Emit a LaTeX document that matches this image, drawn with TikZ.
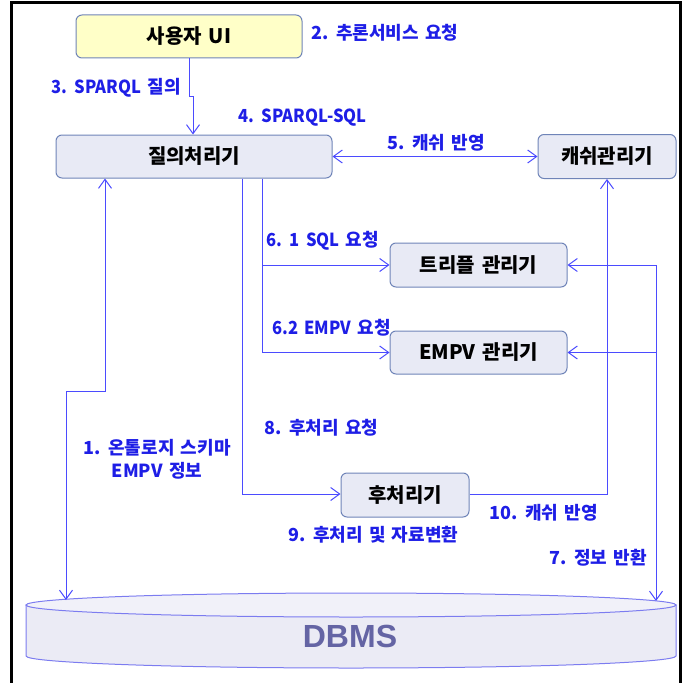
\documentclass[tikz,border=0pt]{standalone}
\usepackage{fontspec}
\newfontfamily\kr{Noto Sans CJK KR}
\newfontfamily\krnarrow{Noto Sans CJK KR}[FakeStretch=0.92]
\newfontfamily\dbfont{Liberation Sans}
\usetikzlibrary{arrows.meta}
\definecolor{lblblue}{HTML}{1E1EE6}
\definecolor{linkblue}{HTML}{4B4BFF}
\definecolor{boxfill}{HTML}{E8EAF5}
\definecolor{boxline}{HTML}{6F84B8}
\definecolor{uifill}{HTML}{FFFFC8}
\definecolor{dbfill}{HTML}{EBEBF5}
\definecolor{dbtop}{HTML}{F1F1F9}
\definecolor{dbline}{HTML}{7C7CF0}
\definecolor{dbtext}{HTML}{6464A4}
\newcommand\widespaces{\spaceskip=0.35em\relax}
% Latin runs in the labels are set slightly condensed
\newcommand\lat[1]{{\krnarrow\bfseries #1}}
\begin{document}
\begin{tikzpicture}[x=1pt,y=-1pt,
  box/.style={draw=boxline, fill=boxfill, rounded corners=6pt, line width=1pt,
    font=\kr\bfseries\fontsize{20}{23}\selectfont, text=black, inner sep=0pt,
    execute at begin node=\widespaces},
  lab/.style={font=\kr\bfseries\fontsize{18}{23}\selectfont, text=lblblue, inner sep=0pt,
    execute at begin node=\widespaces},
  link/.style={draw=linkblue, line width=1pt},
  tip/.style={-{Straight Barb[length=9pt,width=13pt]}},
  tips/.style={{Straight Barb[length=9pt,width=13pt]}-{Straight Barb[length=9pt,width=13pt]}}]
\useasboundingbox (0,0) rectangle (690,682);

% outer frame
\draw[line width=3pt] (11,700) -- (11,3) -- (680,3) -- (680,700);

% DBMS cylinder
\draw[draw=dbline, fill=dbfill, line width=1pt]
  (26,605) -- (26,656) arc[start angle=180, end angle=360, x radius=325pt, y radius=12pt]
  -- (676,605) -- cycle;
\draw[draw=dbline, fill=dbtop, line width=1pt] (351,605) ellipse [x radius=325pt, y radius=12pt];
\node[font=\dbfont\bfseries\fontsize{32}{32}\selectfont, text=dbtext] (db) at (350,636) {DBMS};
\coordinate (dbL) at (66,600);
\coordinate (dbR) at (656,601);

% components
\node[box, fill=uifill, minimum width=226pt, minimum height=43pt] (ui) at (189,36.5) {사용자 UI};
\node[box, minimum width=276pt, minimum height=43pt] (qp) at (194,156.5) {질의처리기};
\node[box, minimum width=138pt, minimum height=44pt] (cm) at (607,156.5) {캐쉬관리기};
\node[box, minimum width=177pt, minimum height=44pt] (tm) at (478.5,265) {트리플 관리기};
\node[box, minimum width=177pt, minimum height=43pt] (em) at (478.5,352.5) {EMPV 관리기};
\node[box, minimum width=128pt, minimum height=44pt] (pp) at (405,495) {후처리기};

% routing points
\coordinate (j1) at (189,97);
\coordinate (j2) at (193,97);
\coordinate (k1) at (66,391);
\coordinate (k2) at (105,391);
\coordinate (a1) at (262,265);
\coordinate (a2) at (262,352.5);
\coordinate (b1) at (242,494);
\coordinate (c1) at (607,494);
\coordinate (d1) at (656,265);
\coordinate (d2) at (656,352.5);

% connectors
\draw[link, tip] (ui.south) -- (j1) -- (j2) -- (j2 |- qp.north);
\draw[link, tips] (qp.east) -- (cm.west);
\draw[link, tips] (dbL) -- (k1) -- (k2) -- (k2 |- qp.south);
\draw[link] (a1 |- qp.south) -- (a2);
\draw[link, tip] (a1) -- (a1 -| tm.west);
\draw[link, tip] (a2) -- (a2 -| em.west);
\draw[link, tip] (b1 |- qp.south) -- (b1) -- (b1 -| pp.west);
\draw[link, tip] (c1 -| pp.east) -- (c1) -- (cm.south);
\draw[link, tip] (d1) -- (d1 -| tm.east);
\draw[link, tip] (d2) -- (d2 -| em.east);
\draw[link, tip] (d1) -- (dbR);

% labels
\node[lab, anchor=west] (l2) at (311,33) {2. 추론서비스 요청};
\node[lab, anchor=west] (l3) at (51,88) {\lat{3. SPARQL} 질의};
\node[lab, anchor=west] (l4) at (238,118) {\lat{4. SPARQL-SQL}};
\node[lab, anchor=west] (l5) at (387,143) {5. 캐쉬 반영};
\node[lab, anchor=west] (l61) at (266,241) {\lat{6. 1 SQL} 요청};
\node[lab, anchor=west] (l62) at (272,328) {\lat{6.2 EMPV} 요청};
\node[lab, anchor=west] (l8) at (264,428) {8. 후처리 요청};
\node[lab, align=center] (l1) at (157,459) {1. 온톨로지 스키마\\EMPV 정보};
\node[lab, anchor=west] (l9) at (288,535) {9. 후처리 및 자료변환};
\node[lab, anchor=west] (l10) at (489,513) {10. 캐쉬 반영};
\node[lab, anchor=west] (l7) at (549,558) {7. 정보 반환};
\end{tikzpicture}
\end{document}
